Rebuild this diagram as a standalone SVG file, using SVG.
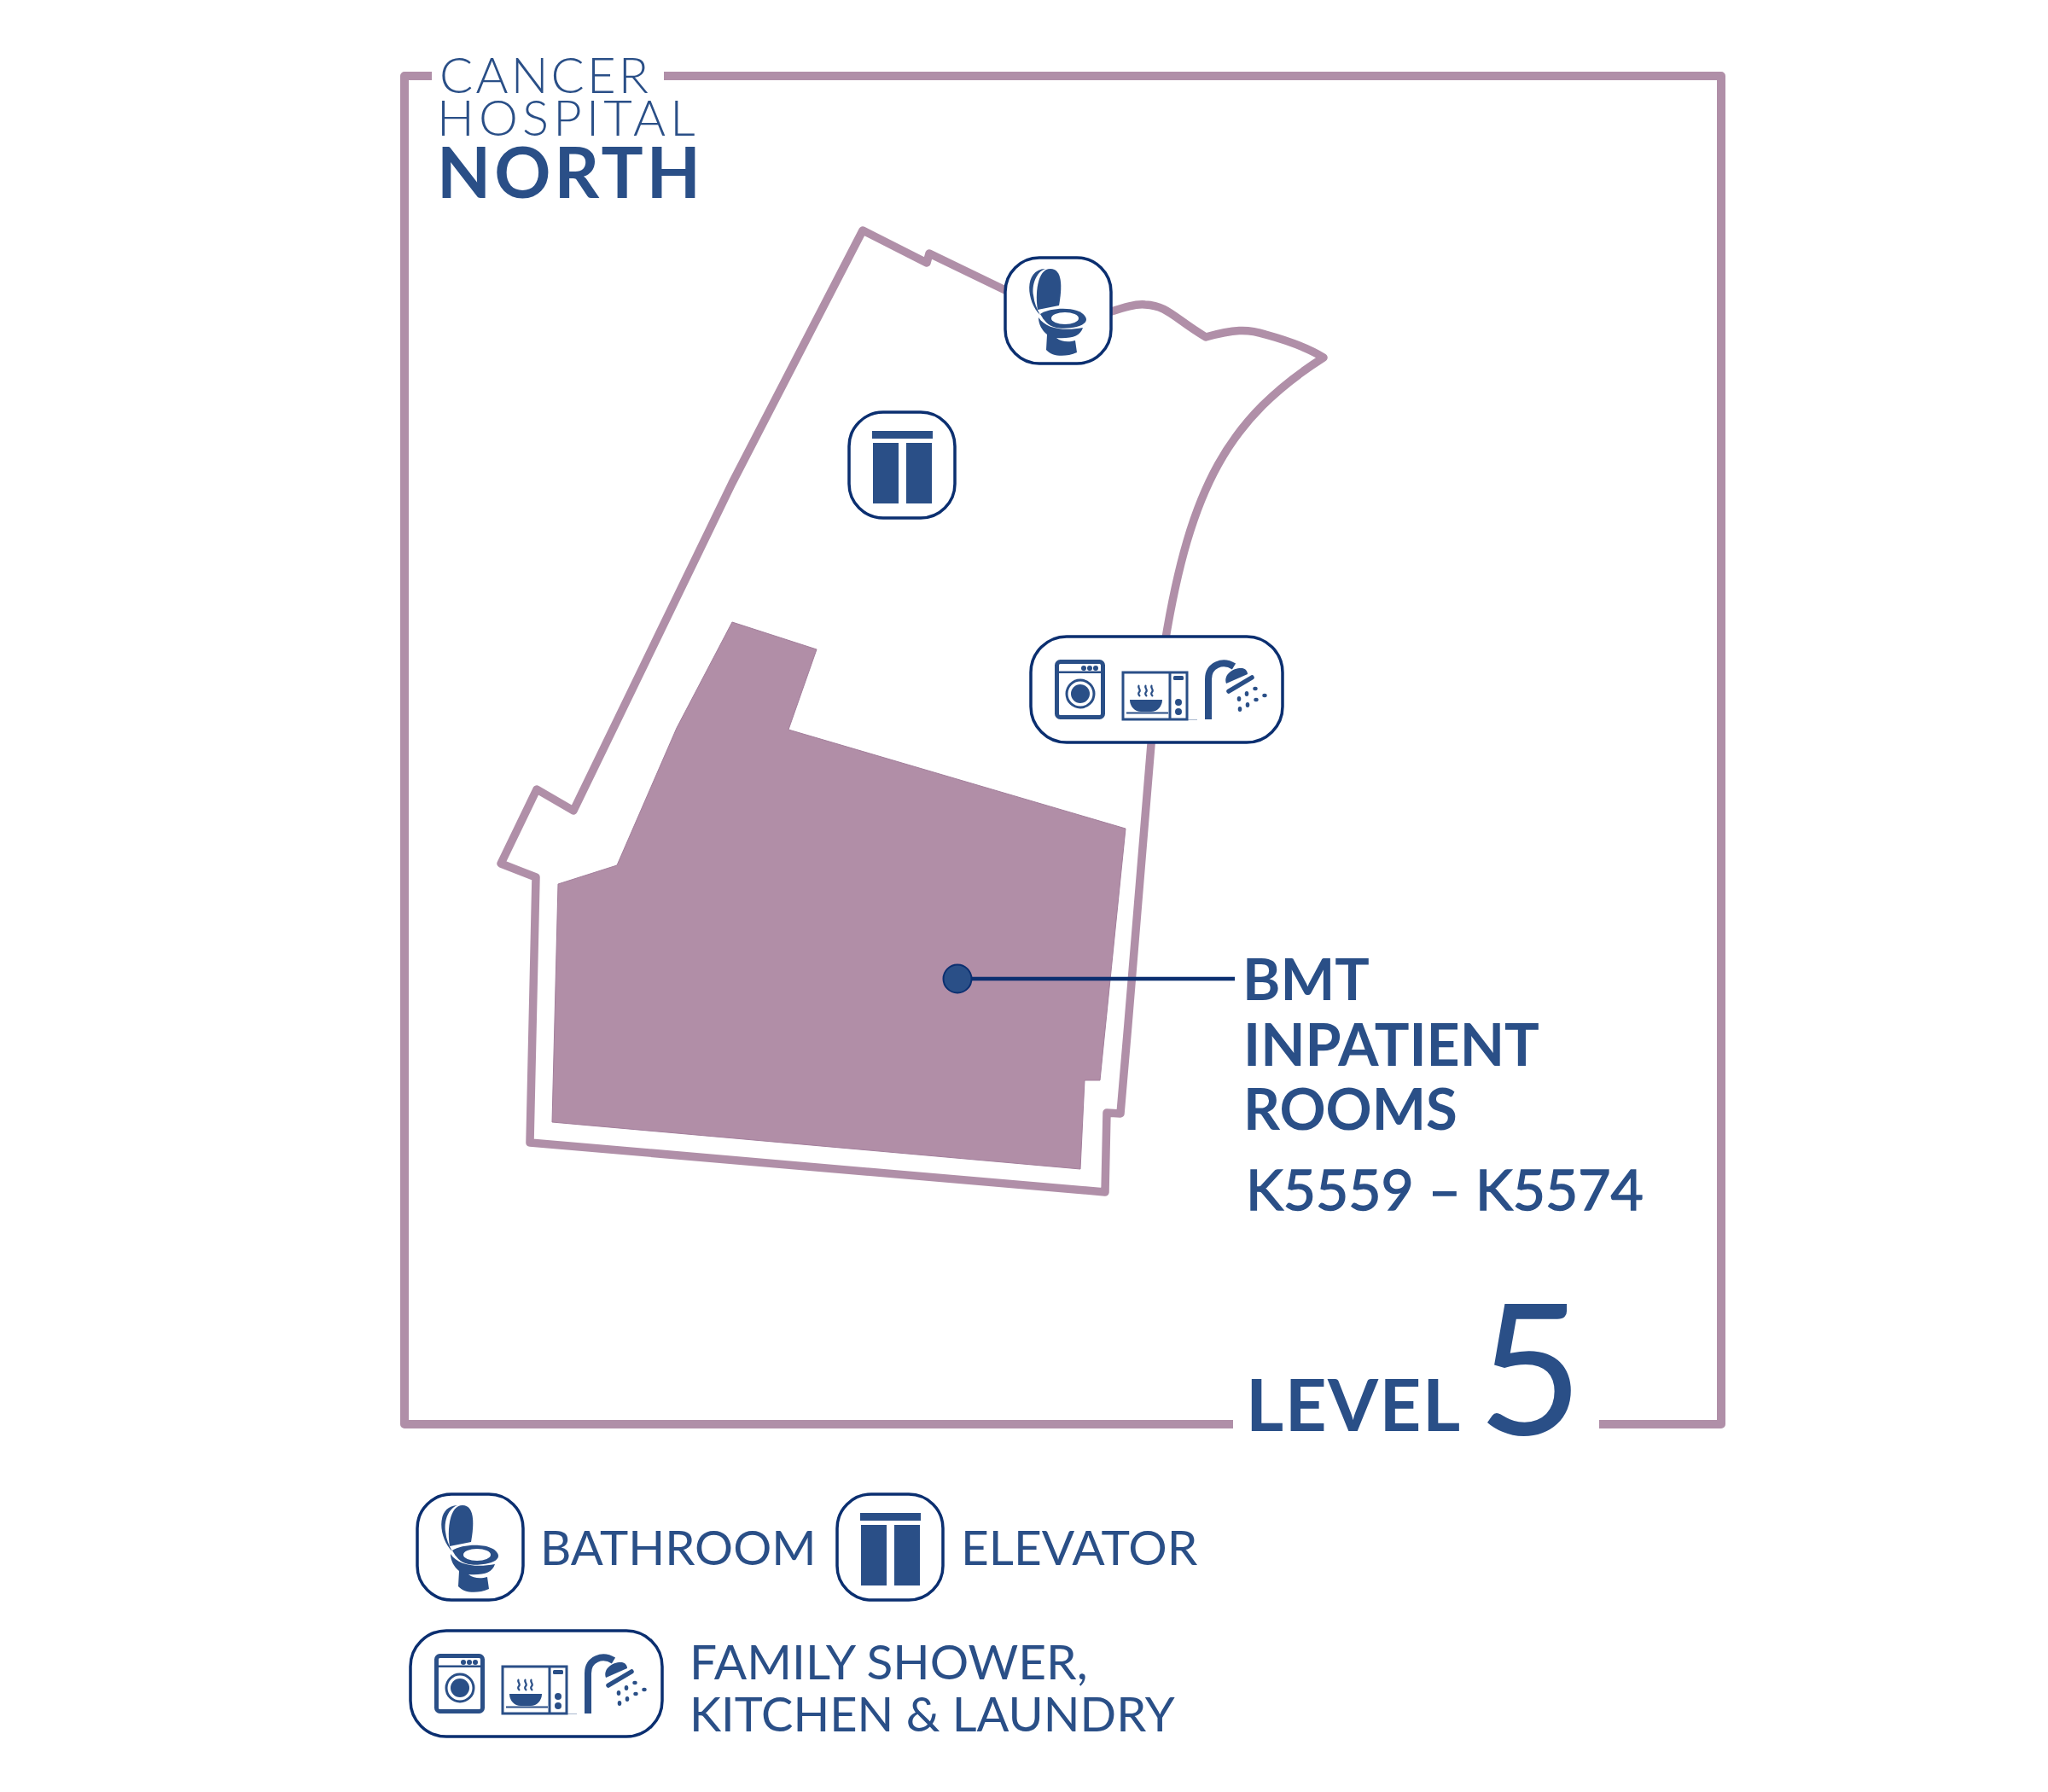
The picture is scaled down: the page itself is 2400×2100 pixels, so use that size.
<svg xmlns="http://www.w3.org/2000/svg" width="2400" height="2100" viewBox="0 0 2400 2100">
<style>
.t{font-family:Lato,"Liberation Sans",sans-serif;fill:#2a4f87}
.light{font-weight:300;font-size:58px}
.bold{font-weight:700}
.reg{font-weight:400}
.line{fill:none;stroke:#b08fa8;stroke-width:10;stroke-linejoin:round;stroke-linecap:butt}
.ib{fill:#fff;stroke:#0b2f70;stroke-width:3.5}
.if{fill:#2a4f87}
.is{fill:none;stroke:#2a4f87}
</style>
<defs>
<g id="i-toilet">
<rect class="ib" x="0" y="0" width="124" height="124" rx="40"/>
<path class="if" d="M38,61C35,44 37,13 53,13C67,13 67,34 63,56Z"/>
<path class="if" d="M41,67C25,52 21,14 47,13C36,17 31,32 33,44C34,53 37,60 41,67Z"/>
<path class="if" d="M41,66C55,57 92,57 95,72C95,82 70,84 60,82C50,80 45,73 41,66Z"/>
<ellipse cx="70" cy="71" rx="16" ry="7" fill="#fff"/>
<path class="if" d="M39,70C48,84 70,86 91,82C88,92 78,95 60,94C66,99 75,99 82,97L84,111C70,117 55,116 48,108L49,90C43,85 39,78 39,70Z"/>
</g>
<g id="i-elevator">
<rect class="ib" x="0" y="0" width="124" height="124" rx="40"/>
<rect class="if" x="27" y="22" width="71" height="9"/>
<rect class="if" x="28" y="36" width="30" height="71"/>
<rect class="if" x="67" y="36" width="30" height="71"/>
</g>
<g id="i-trio">
<rect class="ib" x="0" y="0" width="295" height="124" rx="42"/>
<rect class="is" x="30.500" y="29.500" width="54" height="65" rx="4" stroke-width="5"/>
<rect class="if" x="30" y="40.500" width="55" height="2.500"/>
<circle class="if" cx="62" cy="37" r="3"/><circle class="if" cx="69" cy="37" r="3"/><circle class="if" cx="76" cy="37" r="3"/>
<circle class="is" cx="58" cy="67" r="16" stroke-width="3"/>
<circle class="if" cx="58" cy="67" r="11"/>
<rect class="is" x="108" y="42" width="75" height="55" stroke-width="3"/>
<path class="is" d="M163,42V97" stroke-width="3"/>
<rect class="if" x="167" y="46" width="12" height="5" rx="1.500"/>
<circle class="if" cx="173" cy="77" r="4"/><circle class="if" cx="173" cy="88" r="4"/>
<path class="if" d="M116,74H154C154,82 148,88 141,88H129C122,88 116,82 116,74Z"/>
<path class="is" d="M112,89.500H161" stroke-width="2.200"/>
<path class="is" d="M127,57C124,60 130,62 127,65C125,67 127,69 128,70M135,57C132,60 138,62 135,65C133,67 135,69 136,70M142,57C139,60 145,62 142,65C140,67 142,69 143,70" stroke-width="2.200"/>
<path d="M183,97.500H195" stroke="#2a4f87" stroke-width=".8" opacity=".5"/>
<path class="is" d="M208,97V50C208,33 225,27 238,35" stroke-width="8"/>
<path class="if" d="M229,55C225,44 238,36 248,37C252,38 254,41 254,44Z"/>
<path class="is" d="M232,64L259,48" stroke-width="5.500" stroke-linecap="round"/>
<g class="if"><ellipse cx="244" cy="73" rx="2.300" ry="3"/><ellipse cx="253" cy="67" rx="2.300" ry="3"/><ellipse cx="263" cy="61" rx="2.700" ry="2.200"/><ellipse cx="245" cy="85" rx="2.300" ry="3"/><ellipse cx="254" cy="80" rx="2.300" ry="3"/><ellipse cx="264" cy="74" rx="2.700" ry="2.200"/><ellipse cx="274" cy="69" rx="2.700" ry="2.200"/></g>
</g>
</defs>
<rect width="2400" height="2100" fill="#fff"/>
<g id="frame">
<path class="line" d="M506,89H474V1669H1445M1874,1669H2017V89H778"/>
</g>
<g id="building">
<path class="line" style="stroke-width:9.500" d="M1180,341L1089,297L1086,308L1011,270L858,566L672,950L629,925L587,1012L628,1028L621,1339L1295,1397L1297,1304L1313,1305L1322,1200L1349,872L1365,754C1395,570 1440,490 1551,419C1530,406 1505,398 1483,392C1462,385 1445,386 1413,395C1376,373 1368,358 1342,357C1330,356 1318,360 1296,367"/>
</g>
<g id="bmt-rooms">
<path fill="#b18ea7" stroke="#a27e9b" stroke-width="1" d="M858,729L957,761L924,855L1319,971L1289,1266H1271L1266,1370L647,1315L654,1036L723,1014L793,853Z"/>
</g>
<g id="connectors">
<path d="M1122,1147H1447" stroke="#0b2f70" stroke-width="4.500" fill="none"/>
</g>
<g id="bmt-marker">
<circle cx="1122" cy="1147" r="16.500" fill="#2a4f87" stroke="#0b2f70" stroke-width="2"/>
</g>
<g id="title">
<text class="t light" x="515" y="109" letter-spacing="3.200">CANCER</text>
<text class="t light" x="512" y="159" letter-spacing="5.200">HOSPITAL</text>
<text class="t bold" x="512" y="232" font-size="82" letter-spacing="4">NORTH</text>
</g>
<g id="node-bathroom"><use href="#i-toilet" x="1178" y="302"/></g>
<g id="node-elevator"><use href="#i-elevator" x="995" y="483"/></g>
<g id="node-amenities"><use href="#i-trio" x="1208" y="746"/></g>
<g id="label-bmt">
<text class="t bold" x="1456" y="1172" font-size="67.500">BMT</text>
<text class="t bold" x="1457" y="1249" font-size="68">INPATIENT</text>
<text class="t bold" x="1457" y="1324" font-size="67">ROOMS</text>
<text class="t reg" stroke="#2a4f87" stroke-width="1.400" x="1460" y="1418" font-size="66">K5559 – K5574</text>
</g>
<g id="level">
<text class="t bold" x="1460" y="1677" font-size="85" letter-spacing="1.500">LEVEL</text>
<text class="t reg" x="1731" y="1681" font-size="214">5</text>
</g>
<g id="legend">
<g id="legend-bathroom"><use href="#i-toilet" x="489" y="1751"/><text class="t reg" x="633" y="1834" font-size="56.300">BATHROOM</text></g>
<g id="legend-elevator"><use href="#i-elevator" x="981" y="1751"/><text class="t reg" x="1126" y="1834" font-size="56.800">ELEVATOR</text></g>
<g id="legend-amenities"><use href="#i-trio" x="481" y="1911"/><text class="t reg" x="808" y="1968" font-size="56.800">FAMILY SHOWER,</text><text class="t reg" x="808" y="2029" font-size="56">KITCHEN &amp; LAUNDRY</text></g>
</g>
</svg>
